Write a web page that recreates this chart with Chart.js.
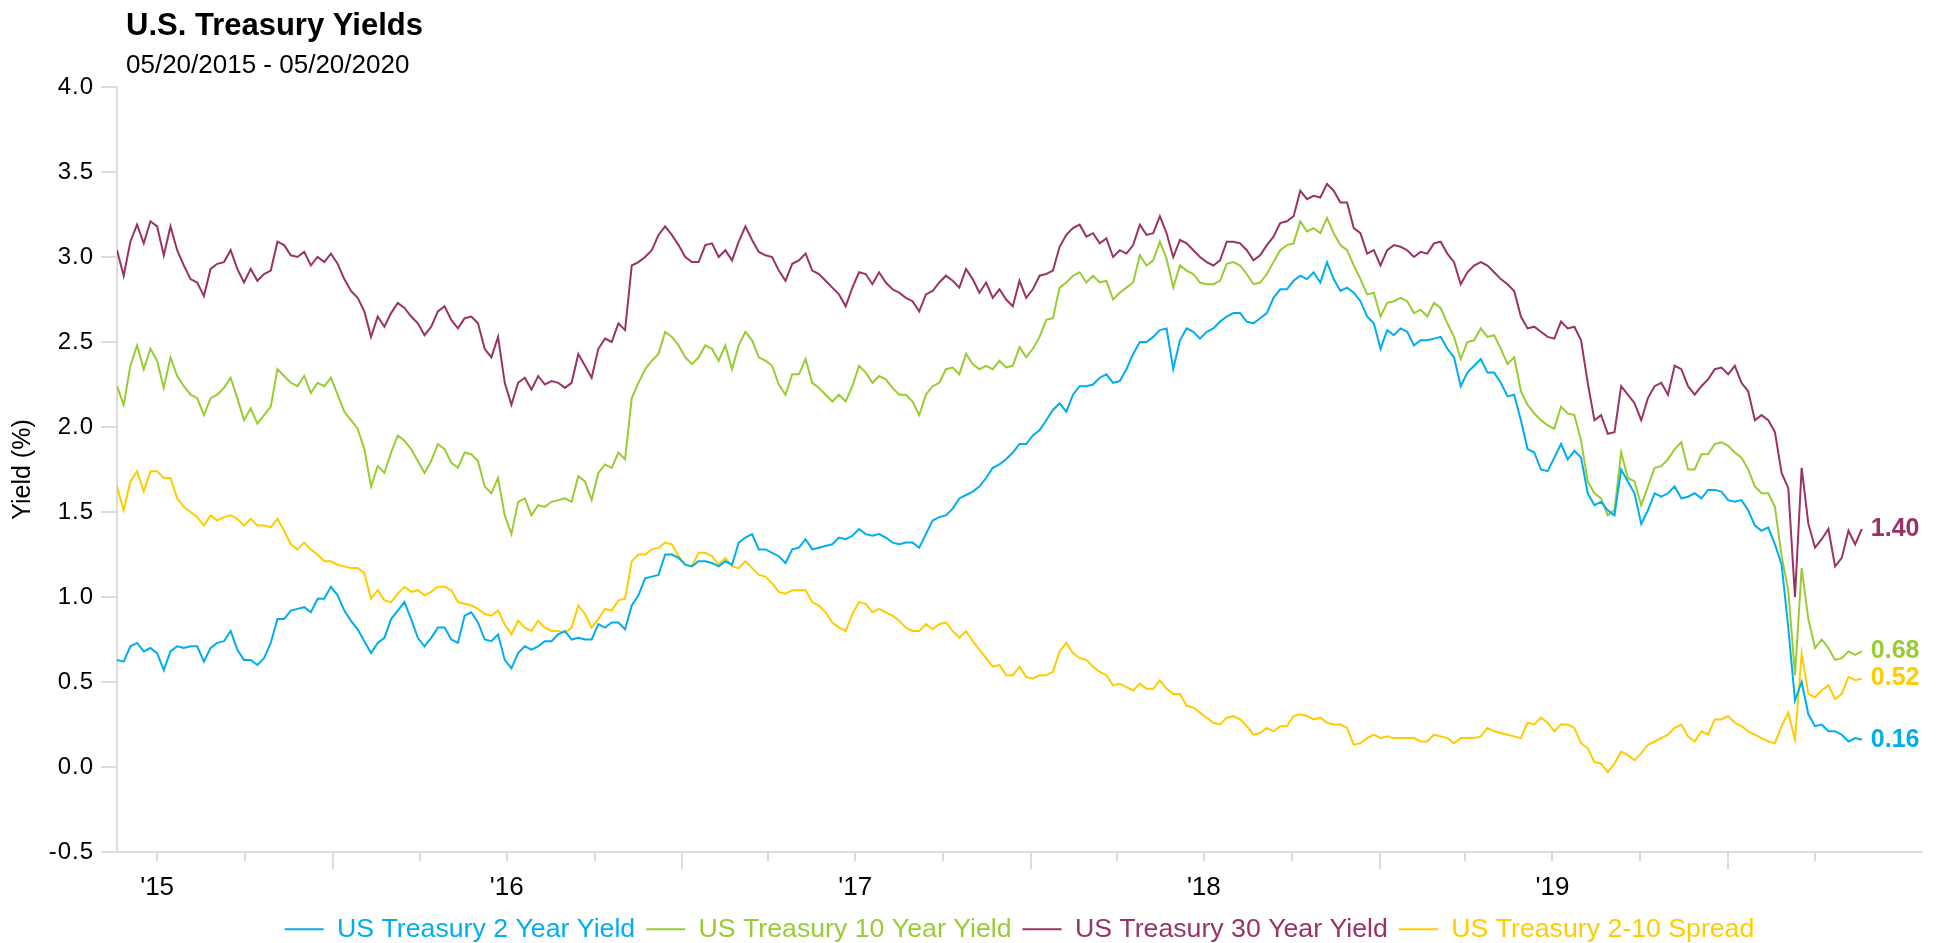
<!DOCTYPE html>
<html>
<head>
<meta charset="utf-8">
<script src="https://cdn.jsdelivr.net/npm/chart.js@4.4.1/dist/chart.umd.min.js"></script>
<style>
html,body{margin:0;padding:0;background:#fff;}
#wrap{width:1942px;height:943px;position:relative;}
</style>
</head>
<body>
<div id="wrap"><canvas id="c" width="1942" height="943"></canvas></div>
<script>
// ---------- DATA (weekly readings, starting 05/20/2015) ----------
const startDate = '2015-05-20';
const stepDays = 7;
const endDate = '2020-07-22';

const seriesNames = ['US Treasury 2 Year Yield', 'US Treasury 10 Year Yield', 'US Treasury 30 Year Yield', 'US Treasury 2-10 Spread'];
const seriesColors = ['#00AEEF', '#99CC33', '#993366', '#FFCC00'];

const yield2Y = [
0.63,0.62,0.71,0.73,0.68,0.70,0.67,0.57,0.68,0.71,
0.70,0.71,0.71,0.62,0.70,0.73,0.74,0.80,0.69,0.63,
0.63,0.60,0.64,0.73,0.87,0.87,0.92,0.93,0.94,0.91,
0.99,0.99,1.06,1.01,0.92,0.86,0.81,0.74,0.67,0.73,
0.76,0.87,0.92,0.97,0.87,0.76,0.71,0.76,0.82,0.82,
0.75,0.73,0.89,0.91,0.85,0.75,0.74,0.78,0.63,0.58,
0.67,0.71,0.69,0.71,0.74,0.74,0.78,0.80,0.75,0.76,
0.75,0.75,0.84,0.82,0.85,0.85,0.81,0.95,1.01,1.11,
1.12,1.13,1.25,1.25,1.23,1.19,1.18,1.21,1.21,1.20,
1.18,1.21,1.19,1.32,1.35,1.37,1.28,1.28,1.26,1.24,
1.20,1.28,1.29,1.34,1.28,1.29,1.30,1.31,1.35,1.34,
1.36,1.40,1.37,1.36,1.37,1.35,1.32,1.31,1.32,1.32,
1.29,1.37,1.45,1.47,1.48,1.52,1.58,1.60,1.62,1.65,
1.70,1.76,1.78,1.81,1.85,1.90,1.90,1.95,1.98,2.04,
2.10,2.14,2.09,2.19,2.24,2.24,2.25,2.29,2.31,2.26,
2.27,2.34,2.43,2.50,2.50,2.53,2.57,2.58,2.34,2.51,
2.58,2.56,2.52,2.56,2.58,2.62,2.65,2.67,2.67,2.62,
2.61,2.64,2.67,2.76,2.81,2.81,2.86,2.89,2.87,2.91,
2.85,2.97,2.87,2.80,2.82,2.79,2.74,2.65,2.61,2.46,
2.57,2.54,2.58,2.56,2.48,2.51,2.51,2.52,2.53,2.46,
2.41,2.24,2.32,2.36,2.40,2.32,2.32,2.26,2.18,2.19,
2.04,1.87,1.85,1.75,1.74,1.82,1.90,1.81,1.86,1.82,
1.61,1.54,1.56,1.51,1.48,1.75,1.68,1.61,1.43,1.51,
1.61,1.59,1.61,1.65,1.58,1.59,1.61,1.58,1.63,1.63,
1.62,1.57,1.56,1.57,1.51,1.42,1.39,1.41,1.31,1.19,
0.82,0.39,0.50,0.31,0.24,0.25,0.21,0.21,0.19,0.15,
0.17,0.16
];

const yield10Y = [
2.24,2.13,2.36,2.48,2.34,2.46,2.39,2.23,2.41,2.30,
2.24,2.19,2.17,2.07,2.17,2.19,2.23,2.29,2.17,2.04,
2.11,2.02,2.07,2.12,2.34,2.30,2.26,2.24,2.30,2.20,
2.26,2.24,2.29,2.19,2.09,2.04,1.99,1.87,1.65,1.77,
1.73,1.85,1.95,1.92,1.87,1.80,1.73,1.80,1.90,1.87,
1.79,1.76,1.85,1.84,1.80,1.65,1.61,1.70,1.48,1.37,
1.56,1.58,1.48,1.54,1.53,1.56,1.57,1.58,1.56,1.71,
1.68,1.57,1.73,1.78,1.76,1.85,1.81,2.17,2.26,2.34,
2.39,2.43,2.56,2.53,2.48,2.41,2.37,2.41,2.48,2.46,
2.39,2.48,2.34,2.48,2.56,2.51,2.41,2.39,2.36,2.25,
2.19,2.31,2.31,2.40,2.26,2.23,2.19,2.15,2.19,2.15,
2.24,2.36,2.32,2.26,2.30,2.28,2.23,2.19,2.19,2.15,
2.07,2.19,2.24,2.26,2.34,2.35,2.31,2.43,2.37,2.34,
2.36,2.34,2.39,2.35,2.36,2.47,2.41,2.46,2.53,2.63,
2.64,2.82,2.85,2.89,2.91,2.85,2.89,2.85,2.86,2.75,
2.79,2.82,2.85,3.01,2.95,2.98,3.09,2.99,2.82,2.95,
2.92,2.90,2.85,2.84,2.84,2.86,2.96,2.97,2.95,2.90,
2.84,2.85,2.90,2.97,3.04,3.07,3.08,3.21,3.15,3.17,
3.14,3.23,3.14,3.07,3.04,2.95,2.87,2.78,2.79,2.65,
2.73,2.74,2.76,2.74,2.67,2.69,2.65,2.73,2.70,2.61,
2.53,2.40,2.50,2.51,2.58,2.53,2.54,2.46,2.37,2.41,
2.21,2.13,2.08,2.04,2.01,1.99,2.12,2.08,2.07,1.92,
1.68,1.61,1.58,1.48,1.51,1.85,1.70,1.68,1.54,1.65,
1.76,1.77,1.81,1.87,1.91,1.75,1.75,1.84,1.84,1.90,
1.91,1.89,1.85,1.82,1.75,1.65,1.61,1.61,1.53,1.24,
1.04,0.54,1.17,0.87,0.70,0.75,0.70,0.63,0.64,0.68,
0.66,0.68
];

const yield30Y = [
3.04,2.89,3.09,3.19,3.08,3.21,3.18,3.01,3.18,3.04,
2.95,2.87,2.85,2.77,2.93,2.96,2.97,3.04,2.93,2.85,
2.93,2.86,2.90,2.92,3.09,3.07,3.01,3.00,3.03,2.95,
3.00,2.97,3.02,2.96,2.87,2.80,2.76,2.68,2.53,2.65,
2.59,2.67,2.73,2.70,2.65,2.61,2.54,2.59,2.68,2.71,
2.63,2.58,2.64,2.65,2.61,2.46,2.41,2.53,2.26,2.13,
2.26,2.29,2.22,2.30,2.25,2.27,2.26,2.23,2.26,2.43,
2.36,2.29,2.46,2.52,2.50,2.61,2.57,2.95,2.97,3.00,
3.04,3.13,3.18,3.13,3.07,3.00,2.97,2.97,3.07,3.08,
3.00,3.04,2.98,3.09,3.18,3.10,3.03,3.01,3.00,2.92,
2.86,2.96,2.98,3.02,2.92,2.90,2.86,2.82,2.78,2.71,
2.82,2.91,2.90,2.84,2.91,2.85,2.81,2.79,2.76,2.74,
2.68,2.78,2.80,2.85,2.89,2.86,2.82,2.93,2.87,2.79,
2.85,2.76,2.81,2.75,2.71,2.86,2.76,2.81,2.89,2.90,
2.92,3.06,3.13,3.17,3.19,3.12,3.14,3.08,3.11,3.00,
3.04,3.02,3.07,3.19,3.13,3.14,3.24,3.14,3.00,3.10,
3.08,3.04,3.00,2.97,2.95,2.98,3.09,3.09,3.08,3.04,
2.98,3.01,3.07,3.12,3.20,3.21,3.24,3.39,3.34,3.36,
3.35,3.43,3.39,3.32,3.32,3.17,3.14,3.02,3.04,2.95,
3.04,3.07,3.06,3.04,3.00,3.03,3.02,3.08,3.09,3.02,
2.97,2.84,2.91,2.95,2.97,2.95,2.91,2.87,2.84,2.80,
2.65,2.58,2.59,2.56,2.53,2.52,2.62,2.58,2.59,2.51,
2.26,2.04,2.07,1.96,1.97,2.24,2.19,2.14,2.04,2.17,
2.24,2.26,2.19,2.36,2.34,2.24,2.19,2.24,2.28,2.34,
2.35,2.31,2.36,2.26,2.21,2.04,2.07,2.04,1.97,1.73,
1.64,1.00,1.76,1.43,1.29,1.34,1.40,1.18,1.23,1.39,
1.31,1.40
];

const spread2s10s = [
1.65,1.51,1.68,1.74,1.62,1.74,1.74,1.70,1.70,1.58,
1.53,1.50,1.47,1.42,1.48,1.45,1.47,1.48,1.46,1.42,
1.46,1.42,1.42,1.41,1.46,1.39,1.31,1.28,1.32,1.28,
1.25,1.21,1.21,1.19,1.18,1.17,1.17,1.14,0.99,1.04,
0.98,0.97,1.02,1.06,1.03,1.04,1.01,1.03,1.06,1.06,
1.04,0.97,0.96,0.95,0.93,0.90,0.89,0.92,0.84,0.78,
0.86,0.82,0.80,0.86,0.82,0.80,0.80,0.79,0.82,0.95,
0.90,0.82,0.87,0.93,0.92,0.98,0.99,1.21,1.25,1.25,
1.28,1.29,1.32,1.31,1.24,1.19,1.18,1.26,1.26,1.24,
1.19,1.23,1.18,1.17,1.21,1.17,1.13,1.12,1.08,1.03,
1.02,1.04,1.04,1.04,0.97,0.95,0.91,0.85,0.82,0.80,
0.90,0.97,0.96,0.91,0.93,0.91,0.89,0.86,0.82,0.80,
0.80,0.84,0.81,0.84,0.85,0.80,0.76,0.80,0.74,0.69,
0.64,0.59,0.60,0.54,0.54,0.59,0.53,0.52,0.54,0.54,
0.56,0.68,0.73,0.67,0.64,0.63,0.59,0.56,0.54,0.48,
0.49,0.47,0.45,0.49,0.46,0.46,0.51,0.46,0.43,0.43,
0.36,0.35,0.32,0.29,0.26,0.25,0.29,0.30,0.28,0.24,
0.19,0.20,0.23,0.21,0.24,0.24,0.30,0.31,0.30,0.28,
0.29,0.26,0.25,0.25,0.23,0.13,0.14,0.17,0.19,0.17,
0.18,0.17,0.17,0.17,0.17,0.15,0.15,0.19,0.18,0.17,
0.14,0.17,0.17,0.17,0.18,0.23,0.21,0.20,0.19,0.18,
0.17,0.26,0.25,0.29,0.26,0.21,0.25,0.25,0.23,0.14,
0.11,0.03,0.02,-0.03,0.02,0.09,0.07,0.04,0.08,0.13,
0.15,0.17,0.19,0.23,0.25,0.18,0.15,0.21,0.19,0.28,
0.28,0.30,0.26,0.24,0.21,0.19,0.17,0.15,0.14,0.24,
0.32,0.16,0.67,0.43,0.41,0.45,0.48,0.40,0.43,0.53,
0.51,0.52
];

const quarterTicks = [
'2015-07-01','2015-10-01',
'2016-01-01','2016-04-01','2016-07-01','2016-10-01',
'2017-01-01','2017-04-01','2017-07-01','2017-10-01',
'2018-01-01','2018-04-01','2018-07-01','2018-10-01',
'2019-01-01','2019-04-01','2019-07-01','2019-10-01',
'2020-01-01','2020-04-01'
];
const yearLabelTicks = ['2015-07-01','2016-07-01','2017-07-01','2018-07-01','2019-07-01'];
const yearLabels = ["'15","'16","'17","'18","'19"];
const yTicks = [-0.5,0.0,0.5,1.0,1.5,2.0,2.5,3.0,3.5,4.0];

const titleText = 'U.S. Treasury Yields';
const subtitleText = '05/20/2015 - 05/20/2020';
const yAxisTitle = 'Yield (%)';

// ---------- helpers ----------
const FONT = '"Liberation Sans", Arial, Helvetica, sans-serif';
const dayOf = s => (Date.parse(s + 'T00:00:00Z') - Date.parse(startDate + 'T00:00:00Z')) / 86400000;
const toPoints = arr => arr.map((v, i) => ({ x: i * stepDays, y: v }));
const allSeries = [yield2Y, yield10Y, yield30Y, spread2s10s];

const datasets = allSeries.map((arr, i) => ({
  label: seriesNames[i],
  data: toPoints(arr),
  borderColor: seriesColors[i],
  backgroundColor: seriesColors[i],
  borderWidth: 2,
  pointRadius: 0,
  pointHoverRadius: 0,
  tension: 0,
  fill: false
}));

const headerPlugin = {
  id: 'header',
  afterDraw(chart) {
    const ctx = chart.ctx;
    ctx.save();
    ctx.fillStyle = '#000';
    ctx.textAlign = 'left';
    ctx.textBaseline = 'alphabetic';
    ctx.font = 'bold 31px ' + FONT;
    ctx.fillText(titleText, 126, 35);
    ctx.font = '26px ' + FONT;
    ctx.fillText(subtitleText, 126, 73);
    ctx.restore();
  }
};

// y-axis tick labels in the reference are slightly letter-spaced
const ySpacing = {
  id: 'ySpacing',
  beforeDraw(chart) {
    const s = chart.scales.y;
    if (s.__wrapped) return;
    s.__wrapped = true;
    const origLabels = s.drawLabels.bind(s);
    s.drawLabels = function (a) { const c = this.ctx; c.save(); c.letterSpacing = '1px'; origLabels(a); c.restore(); };
  }
};

const xTickMarks = {
  id: 'xTickMarks',
  afterDraw(chart) {
    const xs = chart.scales.x;
    const ctx = chart.ctx;
    const bottom = chart.chartArea.bottom;
    ctx.save();
    ctx.strokeStyle = '#dcdcdc';
    ctx.lineWidth = 2;
    quarterTicks.forEach(s => {
      const px = Math.round(xs.getPixelForValue(dayOf(s)));
      const len = s.endsWith('-01-01') ? 17 : 9;
      ctx.beginPath();
      ctx.moveTo(px, bottom);
      ctx.lineTo(px, bottom + len);
      ctx.stroke();
    });
    ctx.restore();
  }
};

const endLabels = {
  id: 'endLabels',
  afterDatasetsDraw(chart) {
    const ctx = chart.ctx;
    ctx.save();
    ctx.font = 'bold 25px ' + FONT;
    ctx.textAlign = 'left';
    ctx.textBaseline = 'middle';
    chart.data.datasets.forEach((ds, i) => {
      const meta = chart.getDatasetMeta(i);
      const last = meta.data[meta.data.length - 1];
      const val = ds.data[ds.data.length - 1].y;
      ctx.fillStyle = ds.borderColor;
      ctx.fillText(val.toFixed(2), last.x + 9, last.y);
    });
    ctx.restore();
  }
};

new Chart(document.getElementById('c'), {
  type: 'line',
  data: { datasets },
  options: {
    responsive: false,
    animation: false,
    events: [],
    layout: { padding: { left: 0, right: 20, top: 87, bottom: 0 } },
    plugins: {
      legend: {
        position: 'bottom',
        fullSize: false,
        maxHeight: 38,
        labels: {
          boxWidth: 39,
          boxHeight: 2,
          padding: 11,
          font: { size: 26.7, family: FONT },
          generateLabels(chart) {
            return chart.data.datasets.map((ds, i) => ({
              text: ds.label,
              fillStyle: ds.borderColor,
              strokeStyle: ds.borderColor,
              fontColor: ds.borderColor,
              lineWidth: 0,
              hidden: false,
              datasetIndex: i
            }));
          }
        }
      },
      tooltip: { enabled: false },
      title: { display: false }
    },
    scales: {
      x: {
        type: 'linear',
        min: 0,
        max: dayOf(endDate),
        grid: { display: false, drawTicks: false },
        border: { display: true, color: '#dcdcdc', width: 2 },
        ticks: {
          padding: 20,
          autoSkip: false,
          maxRotation: 0,
          font: { size: 26, family: FONT },
          color: '#000',
          callback: (v) => {
            const idx = yearLabelTicks.findIndex(s => Math.abs(dayOf(s) - v) < 0.5);
            return idx >= 0 ? yearLabels[idx] : '';
          }
        },
        afterBuildTicks(scale) { scale.ticks = yearLabelTicks.map(s => ({ value: dayOf(s) })); },
        afterFit(scale) { scale.height = 53; }
      },
      y: {
        min: -0.5,
        max: 4.0,
        afterBuildTicks(scale) { scale.ticks = yTicks.map(v => ({ value: v })); },
        ticks: {
          padding: 7,
          font: { size: 24, family: FONT },
          color: '#000',
          callback: v => Number(v).toFixed(1)
        },
        grid: { drawOnChartArea: false, drawTicks: true, tickLength: 16, color: '#dcdcdc', lineWidth: 2 },
        border: { display: true, color: '#dcdcdc', width: 2 },
        title: {
          display: true,
          text: yAxisTitle,
          color: '#000',
          font: { size: 25, family: FONT },
          padding: { top: 8, bottom: 0 }
        },
        afterFit(scale) { scale.width = 117; }
      }
    }
  },
  plugins: [ySpacing, headerPlugin, xTickMarks, endLabels]
});
</script>
</body>
</html>
